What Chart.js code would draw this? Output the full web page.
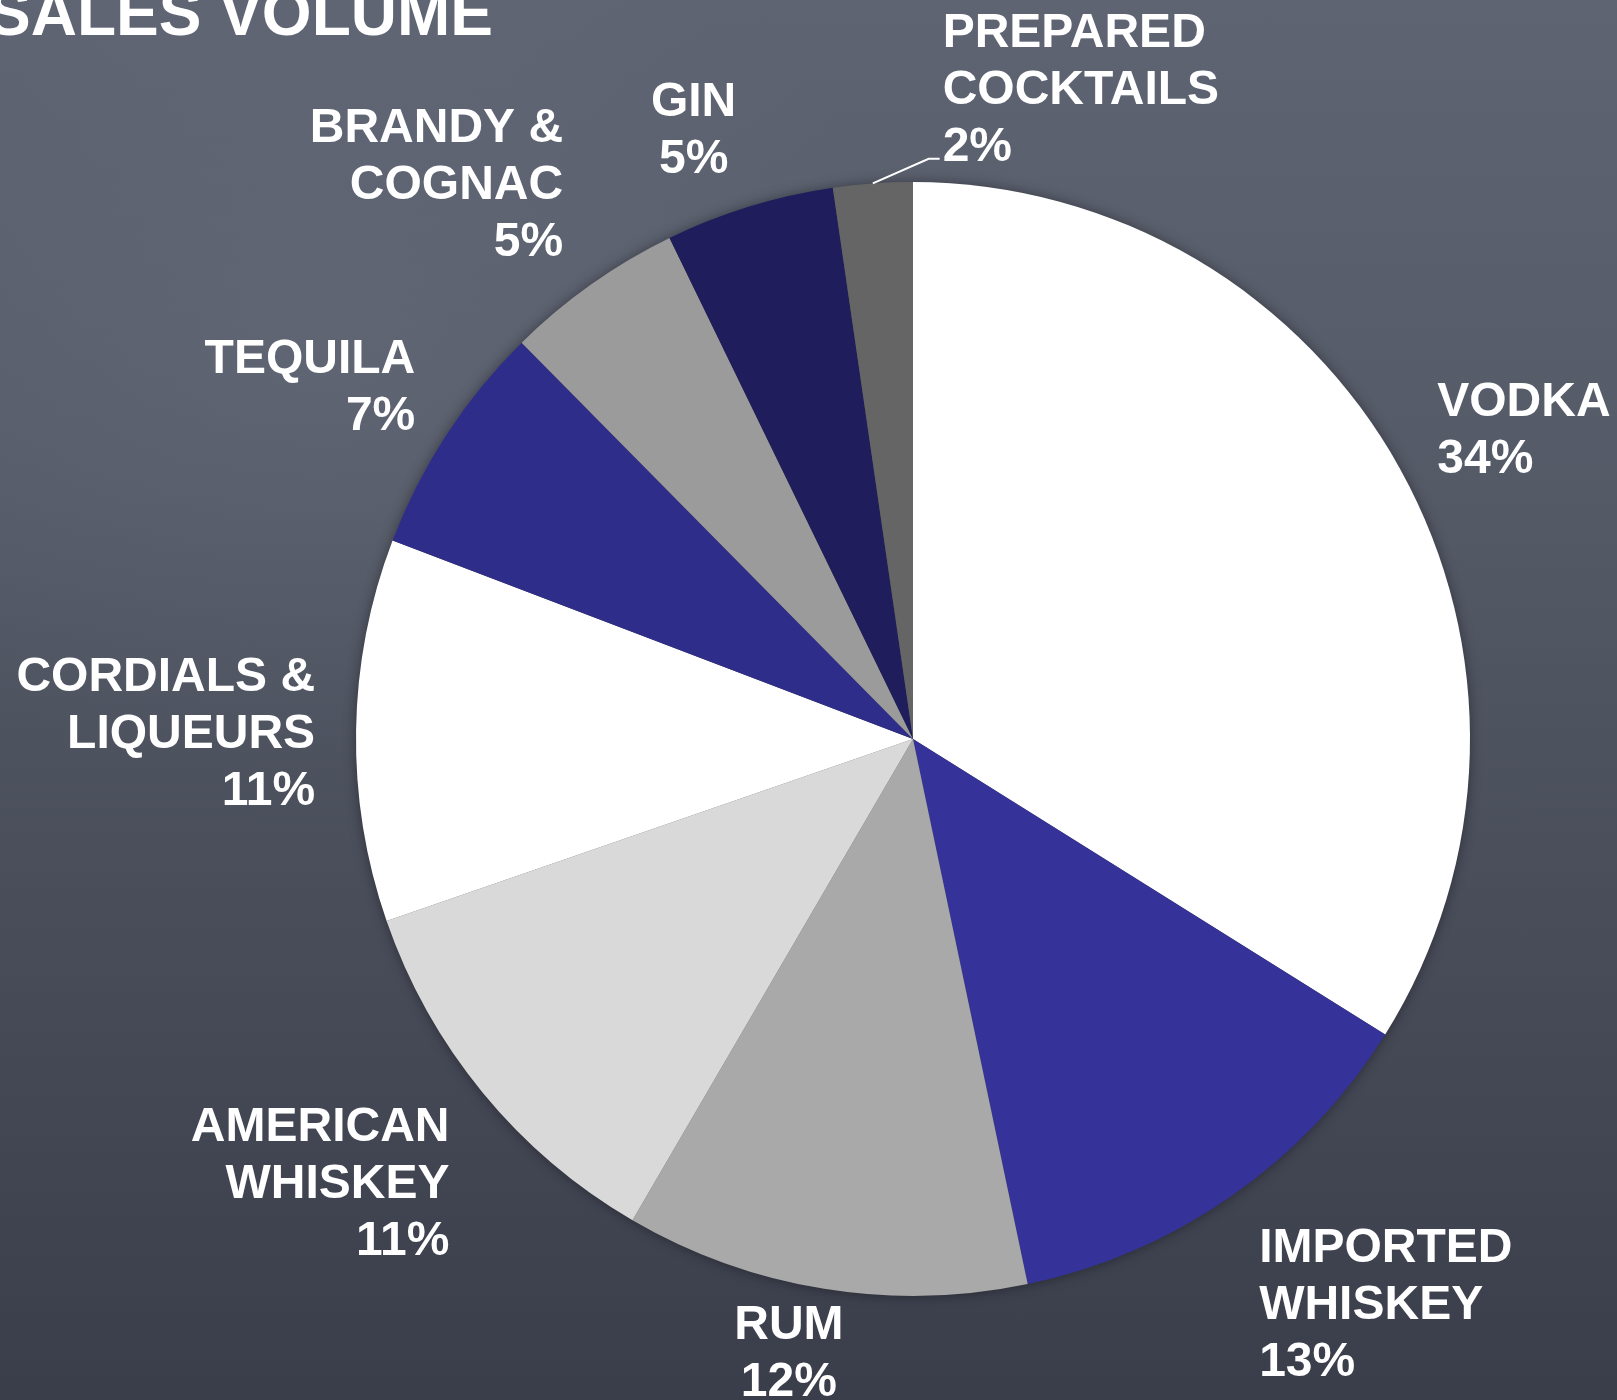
<!DOCTYPE html>
<html>
<head>
<meta charset="utf-8">
<title>Sales Volume</title>
<script src="https://cdn.jsdelivr.net/npm/chart.js@4.4.1/dist/chart.umd.min.js"></script>
<style>
    html, body {
        margin: 0;
        padding: 0;
        width: 1617px;
        height: 1400px;
        overflow: hidden;
        background:
            radial-gradient(ellipse 900px 600px at 20% 25%, rgba(110, 116, 132, 0.35), rgba(110, 116, 132, 0) 70%),
            linear-gradient(180deg, #5f6473 0%, #555a67 35%, #474b58 70%, #3a3e4b 100%);
    }
    #wrap {
        position: relative;
        width: 1617px;
        height: 1400px;
    }
</style>
</head>
<body>
<div id="wrap"><canvas id="pieChart"></canvas></div>
<script>
// categories (split into display lines) and their share of sales volume, %
const categories = [
    ['VODKA'],
    ['IMPORTED', 'WHISKEY'],
    ['RUM'],
    ['AMERICAN', 'WHISKEY'],
    ['CORDIALS &', 'LIQUEURS'],
    ['TEQUILA'],
    ['BRANDY &', 'COGNAC'],
    ['GIN'],
    ['PREPARED', 'COCKTAILS']
];
const shares = [33.9, 12.8, 11.7, 11.3, 11.1, 6.8, 5.2, 4.9, 2.3];
const sliceColors = ['#ffffff', '#35339a', '#a9a9a9', '#d9d9d9', '#ffffff', '#2e2d8a', '#9b9b9b', '#1f1d5b', '#656565'];

// label layout: text alignment, nudge from the default outside-end spot, leader line
const labelAlign = ['left', 'left', 'center', 'right', 'right', 'right', 'right', 'center', 'left'];
const labelNudge = [[12, 0], [58, 12], [-20, -24], [-31, 15], [0, 3], [-14, -3], [-58, -8], [-31, 4], [221, 18]];
const labelLeader = [false, false, false, false, false, false, false, false, true];

const FONT = '"Liberation Sans", Arial, Helvetica, sans-serif';
const LABEL_SIZE = 48;
const LINE = 57;
const CAP = 34;
const GAP = 41;

const pieShadow = {
    id: 'pieShadow',
    beforeDatasetsDraw(chart) {
        const arc = chart.getDatasetMeta(0).data[0];
        if (!arc) return;
        const ctx = chart.ctx;
        ctx.save();
        ctx.shadowColor = 'rgba(0, 0, 0, 0.45)';
        ctx.shadowBlur = 14;
        ctx.fillStyle = '#444';
        ctx.beginPath();
        ctx.arc(arc.x, arc.y, arc.outerRadius - 1, 0, Math.PI * 2);
        ctx.fill();
        ctx.restore();
    }
};

const sliceLabels = {
    id: 'sliceLabels',
    afterDatasetsDraw(chart) {
        const ctx = chart.ctx;
        const arcs = chart.getDatasetMeta(0).data;
        ctx.save();
        ctx.font = `bold ${LABEL_SIZE}px ${FONT}`;
        ctx.fillStyle = '#ffffff';
        ctx.strokeStyle = '#ffffff';
        ctx.textBaseline = 'alphabetic';
        arcs.forEach((arc, i) => {
            const mid = (arc.startAngle + arc.endAngle) / 2;
            const dx = Math.cos(mid), dy = Math.sin(mid);
            const r = arc.outerRadius;
            const lines = [...categories[i], Math.round(shares[i]) + '%'];
            const w = Math.max(...lines.map(t => ctx.measureText(t).width));
            const h = (lines.length - 1) * LINE + CAP;
            const ax = arc.x + dx * (r + GAP);
            const ay = arc.y + dy * (r + GAP);
            const cx = ax + dx * w / 2 + labelNudge[i][0];
            const cy = ay + dy * h / 2 + labelNudge[i][1];
            const left = cx - w / 2, top = cy - h / 2;
            lines.forEach((t, j) => {
                const tw = ctx.measureText(t).width;
                let x = left;
                if (labelAlign[i] === 'right') x = left + w - tw;
                if (labelAlign[i] === 'center') x = cx - tw / 2;
                ctx.fillText(t, x, top + CAP + j * LINE);
            });
            if (labelLeader[i]) {
                const ex = arc.x + dx * r, ey = arc.y + dy * r;
                const ly = top + (lines.length - 1) * LINE + CAP - 2;
                ctx.lineWidth = 2;
                ctx.beginPath();
                ctx.moveTo(ex, ey);
                ctx.lineTo(left - 14, ly);
                ctx.lineTo(left - 3, ly);
                ctx.stroke();
            }
        });
        ctx.restore();
    }
};

const titlePlugin = {
    id: 'slideTitle',
    afterDraw(chart) {
        const ctx = chart.ctx;
        ctx.save();
        ctx.font = `bold 64px ${FONT}`;
        ctx.fillStyle = '#ffffff';
        ctx.textBaseline = 'alphabetic';
        ctx.fillText('SALES VOLUME', -12, 35);
        ctx.restore();
    }
};

const ctx = document.getElementById('pieChart').getContext('2d');
const chart = new Chart(ctx, {
    type: 'pie',
    data: {
        labels: categories.map(c => c.join(' ')),
        datasets: [{
            data: shares,
            backgroundColor: sliceColors,
            borderWidth: 0
        }]
    },
    options: {
        responsive: true,
        maintainAspectRatio: false,
        animation: false,
        layout: { padding: { left: 356, right: 147, top: 182, bottom: 104 } },
        plugins: {
            legend: { display: false },
            tooltip: { enabled: false }
        }
    },
    plugins: [pieShadow, sliceLabels, titlePlugin]
});
</script>
</body>
</html>
